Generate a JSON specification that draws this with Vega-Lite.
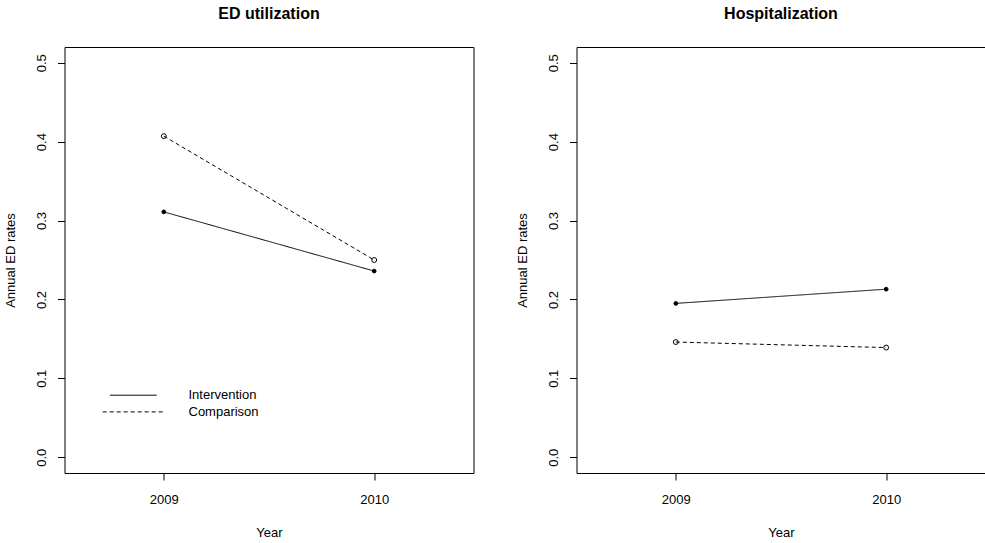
{
  "$schema": "https://vega.github.io/schema/vega-lite/v6.json",
  "background": "white",
  "padding": {"left": 3.5, "top": 5, "right": 0, "bottom": 0},
  "bounds": "flush",
  "spacing": 103,
  "config": {
    "font": "Liberation Sans",
    "view": {"stroke": "black", "strokeWidth": 1},
    "axis": {
      "grid": false, "domain": false, "tickColor": "black", "tickSize": 7, "tickWidth": 1,
      "labelFont": "Liberation Sans", "labelFontSize": 13, "labelColor": "black",
      "titleFont": "Liberation Sans", "titleFontSize": 13, "titleFontWeight": "normal", "titleColor": "black"
    },
    "title": {"fontSize": 16, "font": "Liberation Sans", "fontWeight": "bold", "color": "black", "anchor": "middle", "baseline": "alphabetic", "offset": 25},
    "legend": {"labelFont": "Liberation Sans", "labelFontSize": 13, "labelColor": "black", "padding": 0}
  },
  "datasets": {
    "rates": [
      {"panel": "ED utilization", "group": "Intervention", "year": 2009, "rate": 0.311},
      {"panel": "ED utilization", "group": "Intervention", "year": 2010, "rate": 0.236},
      {"panel": "ED utilization", "group": "Comparison", "year": 2009, "rate": 0.407},
      {"panel": "ED utilization", "group": "Comparison", "year": 2010, "rate": 0.250},
      {"panel": "Hospitalization", "group": "Intervention", "year": 2009, "rate": 0.195},
      {"panel": "Hospitalization", "group": "Intervention", "year": 2010, "rate": 0.213},
      {"panel": "Hospitalization", "group": "Comparison", "year": 2009, "rate": 0.146},
      {"panel": "Hospitalization", "group": "Comparison", "year": 2010, "rate": 0.139}
    ]
  },
  "hconcat": [
    {
      "title": "ED utilization",
      "width": 409, "height": 426,
      "data": {"name": "rates"},
      "transform": [{"filter": "datum.panel === 'ED utilization'"}],
      "encoding": {
        "x": {"field": "year", "type": "quantitative", "scale": {"domain": [2008.528, 2010.472], "nice": false, "zero": false},
              "axis": {"values": [2009, 2010], "format": "d", "title": "Year", "labelBaseline": "alphabetic", "labelPadding": 23, "titleBaseline": "alphabetic", "titleY": 63, "titleX": 204.5}},
        "y": {"field": "rate", "type": "quantitative", "scale": {"domain": [-0.02, 0.52], "nice": false, "zero": false},
              "axis": {"values": [0, 0.1, 0.2, 0.3, 0.4, 0.5], "format": ".1f", "title": "Annual ED rates", "labelAngle": 270, "labelAlign": "center", "labelBaseline": "alphabetic", "labelPadding": 11.8, "titleAngle": 270, "titleAlign": "center", "titleBaseline": "alphabetic", "titleX": -50.5, "titleY": 213}}
      },
      "layer": [
        {
          "mark": {"type": "line", "color": "black", "strokeWidth": 1},
          "encoding": {
            "strokeDash": {"field": "group", "type": "nominal", "scale": {"domain": ["Intervention", "Comparison"], "range": [[1, 0], [4, 3]]},
              "legend": {"title": null, "orient": "none", "legendX": 62.3, "legendY": 341.7, "symbolType": "M-12.5,0H12.5", "symbolSize": 121, "symbolStrokeColor": "black", "symbolStrokeWidth": 1, "symbolFillColor": "transparent", "labelOffset": 48.7, "rowPadding": 2.7}}
          }
        },
        {
          "mark": {"type": "point", "shape": "circle", "filled": true, "stroke": "black", "strokeWidth": 1, "opacity": 1},
          "encoding": {
            "fill": {"field": "group", "type": "nominal", "scale": {"domain": ["Intervention", "Comparison"], "range": ["black", "transparent"]}, "legend": null},
            "size": {"field": "group", "type": "nominal", "scale": {"domain": ["Intervention", "Comparison"], "range": [14, 24]}, "legend": null}
          }
        }
      ]
    },
    {
      "title": "Hospitalization",
      "width": 409, "height": 426,
      "data": {"name": "rates"},
      "transform": [{"filter": "datum.panel === 'Hospitalization'"}],
      "encoding": {
        "x": {"field": "year", "type": "quantitative", "scale": {"domain": [2008.528, 2010.472], "nice": false, "zero": false},
              "axis": {"values": [2009, 2010], "format": "d", "title": "Year", "labelBaseline": "alphabetic", "labelPadding": 23, "titleBaseline": "alphabetic", "titleY": 63, "titleX": 204.5}},
        "y": {"field": "rate", "type": "quantitative", "scale": {"domain": [-0.02, 0.52], "nice": false, "zero": false},
              "axis": {"values": [0, 0.1, 0.2, 0.3, 0.4, 0.5], "format": ".1f", "title": "Annual ED rates", "labelAngle": 270, "labelAlign": "center", "labelBaseline": "alphabetic", "labelPadding": 11.8, "titleAngle": 270, "titleAlign": "center", "titleBaseline": "alphabetic", "titleX": -50.5, "titleY": 213}}
      },
      "layer": [
        {
          "mark": {"type": "line", "color": "black", "strokeWidth": 1},
          "encoding": {
            "strokeDash": {"field": "group", "type": "nominal", "scale": {"domain": ["Intervention", "Comparison"], "range": [[1, 0], [4, 3]]}, "legend": null}
          }
        },
        {
          "mark": {"type": "point", "shape": "circle", "filled": true, "stroke": "black", "strokeWidth": 1, "opacity": 1},
          "encoding": {
            "fill": {"field": "group", "type": "nominal", "scale": {"domain": ["Intervention", "Comparison"], "range": ["black", "transparent"]}, "legend": null},
            "size": {"field": "group", "type": "nominal", "scale": {"domain": ["Intervention", "Comparison"], "range": [14, 24]}, "legend": null}
          }
        }
      ]
    }
  ]
}
